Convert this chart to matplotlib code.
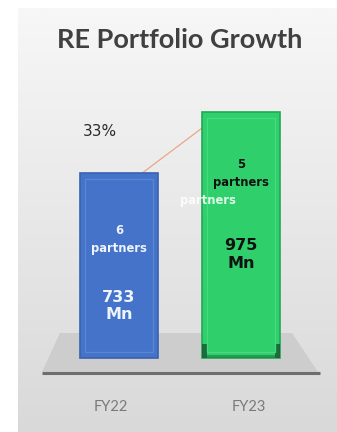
import numpy as np
import matplotlib.pyplot as plt
from matplotlib.patches import Polygon

# portfolio size per year (Mn) and partner counts
years = ["FY22", "FY23"]
portfolio_mn = [733, 975]
partners = [6, 5]
growth_label = "33%"

bar_colors = ["#4473c9", "#2fcf6c"]
edge_colors = ["#3a62ae", "#22a856"]
inner_colors = ["#5a86d6", "#45dc80"]
text_colors = ["#eef3fc", "#111111"]

W, H = 337, 432
fig = plt.figure(figsize=(W / 100, H / 100), dpi=100)
fig.patch.set_facecolor("white")

# soft grey slide panel behind the chart
bg = fig.add_axes([18 / W, 0, 1 - 18 / W, 1 - 8 / H])
grad = np.linspace(0, 1, 256).reshape(-1, 1)
bg.imshow(grad, aspect="auto", cmap=plt.matplotlib.colors.LinearSegmentedColormap.from_list(
    "panel", ["#f7f7f7", "#e8e8e8", "#d9d9d9"]), extent=[0, 1, 0, 1], origin="upper")
bg.set_axis_off()

ax = fig.add_axes([0, 0, 1, 1])
ax.set_facecolor("none")
ax.set_axis_off()

# scale: zero line at y=358px, 975 Mn reaches y=112px
k = (358 - 112) / 975
ax.set_ylim(-(H - 358) / k, 358 / k)
ax.set_xlim(-119 / 122, (W - 119) / 122)

# floor under the bars
floor = Polygon([(60 / W, 1 - 333 / H), (292 / W, 1 - 333 / H),
                 (318 / W, 1 - 372 / H), (42 / W, 1 - 372 / H)],
                closed=True, transform=ax.transAxes, facecolor="#cdcdcd",
                edgecolor="none", zorder=1)
ax.add_patch(floor)
ax.plot([42 / W, 320 / W], [1 - 373 / H, 1 - 373 / H], transform=ax.transAxes,
        color="#6e6e6e", lw=2.2, solid_capstyle="butt", zorder=2)

x = np.arange(len(years))
width = 0.64
ax.bar(x, portfolio_mn, width=width, color=bar_colors, edgecolor=edge_colors,
       linewidth=1.2, zorder=3)
# inner bevel outline
inset = 6 / k
ax.bar(x, np.array(portfolio_mn) - 2 * inset, bottom=inset, width=width - 0.09,
       fill=False, edgecolor=inner_colors, linewidth=0.9, zorder=4)
# dark foot shadow at the corners of the FY23 bar
ax.bar([1 - width / 2 + 0.02, 1 + width / 2 - 0.02], 14 / k, width=0.04,
       color="#174d2c", zorder=3.5, alpha=0.75)
ax.bar(1, 3 / k, width=width, color="#1a6a3a", zorder=3.5, alpha=0.5)

for i, v in enumerate(portfolio_mn):
    ax.text(x[i], v * (0.64 if i == 0 else 0.75), f"{partners[i]}\npartners",
            ha="center", va="center", color=text_colors[i], fontsize=8.3,
            fontweight="bold", linespacing=1.45, zorder=5)
    ax.text(x[i], v * (0.28 if i == 0 else 0.42), f"{v}\nMn",
            ha="center", va="center", color=text_colors[i], fontsize=11.5,
            fontweight="bold", linespacing=1.2, zorder=5)

# stray white label sitting across the FY23 bar edge
ax.text(0.73, portfolio_mn[1] * 0.64, "partners", ha="center", va="center",
        color="white", fontsize=8.3, fontweight="bold", alpha=0.85, zorder=5)

# growth connector between the bar tops
ax.plot([0.19, 1 - width / 2], [portfolio_mn[0], 911], color="#e8a888",
        lw=0.9, zorder=2.5)
ax.text(-0.16, 896, growth_label, ha="center", va="center", fontsize=11,
        color="#2a2a2a", zorder=5)

for i, lab in enumerate(years):
    ax.text(x[i] + (-0.065 if i == 0 else 0.065), 1 - 407 / H, lab,
            transform=ax.get_xaxis_transform(), ha="center", va="center",
            fontsize=10.5, color="#7a7a7a", family="Lato")

fig.text(180 / W, 1 - 40 / H, "RE Portfolio Growth", ha="center", va="center",
         fontsize=19.5, fontweight="bold", color="#404040", family="Lato")

fig.savefig("out.png", dpi=100)
